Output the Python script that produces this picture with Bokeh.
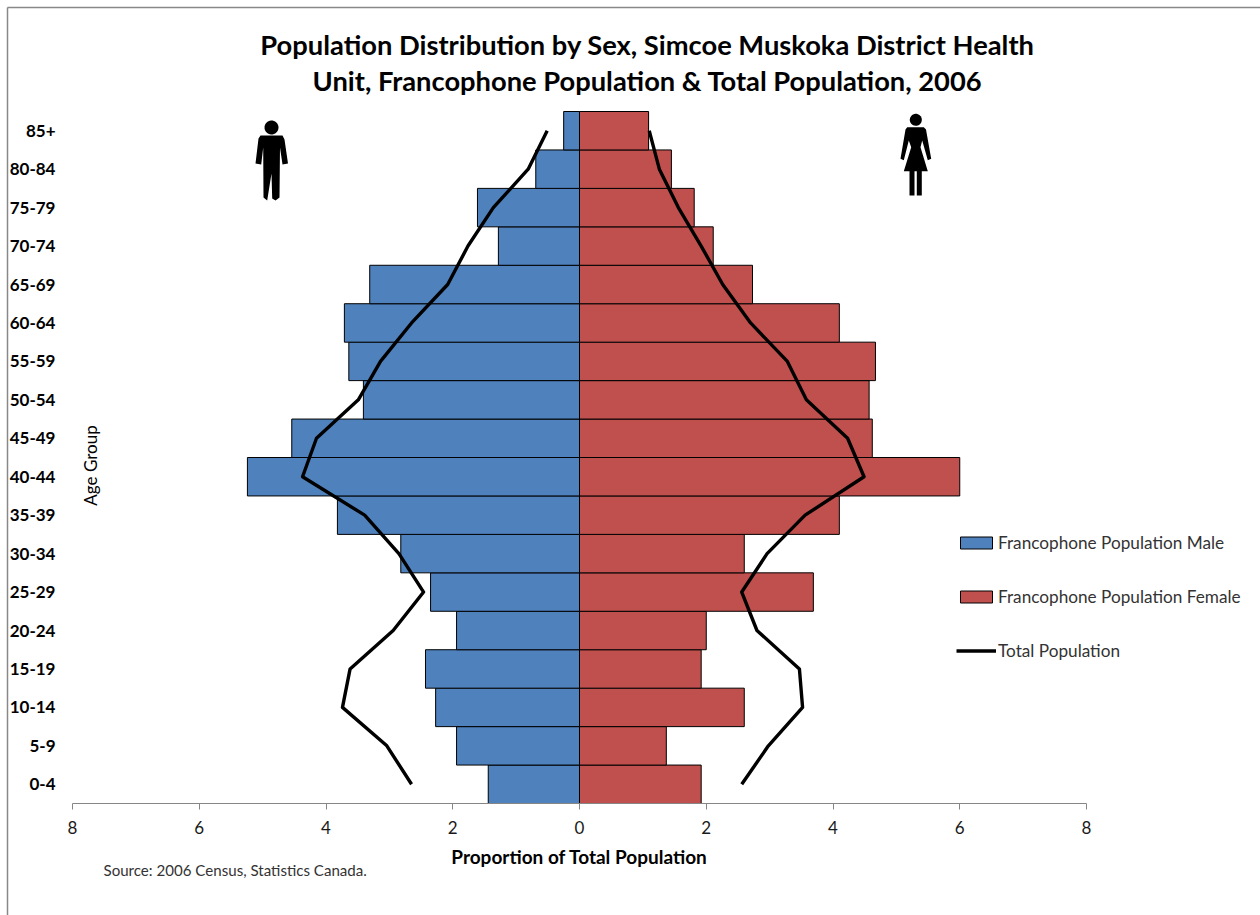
from bokeh.plotting import figure
from bokeh.models import (Range1d, FixedTicker, Label, Legend, LegendItem)
from bokeh.embed import file_html
from bokeh.resources import INLINE
import numpy as np

# ---- data (bottom to top) ----
age_groups = ["0-4", "5-9", "10-14", "15-19", "20-24", "25-29", "30-34", "35-39", "40-44",
              "45-49", "50-54", "55-59", "60-64", "65-69", "70-74", "75-79", "80-84", "85+"]
franco_male = [1.44, 1.94, 2.27, 2.43, 1.94, 2.35, 2.82, 3.82, 5.24,
               4.54, 3.41, 3.64, 3.71, 3.31, 1.28, 1.61, 0.69, 0.25]
franco_female = [1.92, 1.37, 2.60, 1.92, 2.00, 3.69, 2.60, 4.10, 6.00,
                 4.62, 4.57, 4.67, 4.10, 2.73, 2.11, 1.81, 1.45, 1.09]
total_male = [2.65, 3.04, 3.74, 3.62, 2.94, 2.46, 2.85, 3.39, 4.37,
              4.15, 3.49, 3.14, 2.65, 2.08, 1.76, 1.36, 0.81, 0.51]
total_female = [2.56, 2.98, 3.52, 3.47, 2.80, 2.56, 2.96, 3.56, 4.49,
                4.23, 3.58, 3.28, 2.70, 2.26, 1.92, 1.56, 1.26, 1.10]
x_ticks = [-8, -6, -4, -2, 0, 2, 4, 6, 8]

TITLE_1 = "Population Distribution by Sex, Simcoe Muskoka District Health"
TITLE_2 = "Unit, Francophone Population & Total Population, 2006"
FONT = "Lato"
BLUE, RED = "#4F81BD", "#C0504D"

W, H = 1260, 915
X0, PX_PER_X = 579.0, 1014 / 16          # zero line and scale of the value axis
Y0, PX_PER_Y = 803.0, 692 / 18           # baseline and scale of the age axis
pos = [i + 0.5 for i in range(len(age_groups))]

p = figure(width=W, height=H, output_backend="svg", toolbar_location=None,
           x_range=Range1d(-X0 / PX_PER_X, (W - X0) / PX_PER_X),
           y_range=Range1d((Y0 - H) / PX_PER_Y, Y0 / PX_PER_Y),
           min_border=0, outline_line_color=None, background_fill_color="white")
p.grid.visible = False
p.extra_x_ranges = {"px": Range1d(0, W)}
p.extra_y_ranges = {"px": Range1d(H, 0)}

# chart-area border (top and left edges)
p.segment([7, 7], [7, 7], [W, 7], [7, H], x_range_name="px", y_range_name="px",
          line_color="#888888", line_width=1.5)

male_bars = p.hbar(y=pos, left=[-v for v in franco_male], right=0, height=1,
                   fill_color=BLUE, line_color="#000000", line_width=1)
female_bars = p.hbar(y=pos, left=0, right=franco_female, height=1,
                     fill_color=RED, line_color="#000000", line_width=1)
male_line = p.line([-v for v in total_male], pos, line_color="black", line_width=3.4,
                   line_join="round")
p.line(total_female, pos, line_color="black", line_width=3.4, line_join="round")

# axes
xa = p.xaxis[0]
xa.fixed_location = 0
xa.bounds = (-8, 8)
xa.ticker = FixedTicker(ticks=x_ticks)
xa.major_label_overrides = {t: str(abs(t)) for t in x_ticks}
xa.axis_line_color = "#868686"
xa.major_tick_line_color = "#868686"
xa.major_tick_out, xa.major_tick_in = 6, 0
xa.minor_tick_line_color = None
xa.major_label_text_font = FONT
xa.major_label_text_font_size = "17px"
xa.major_label_text_color = "#1a1a1a"
xa.major_label_standoff = 11
xa.axis_label = "Proportion of Total Population"
xa.axis_label_text_font = FONT
xa.axis_label_text_font_style = "bold"
xa.axis_label_text_font_size = "19px"
xa.axis_label_text_color = "#000000"
xa.axis_label_standoff = 8

ya = p.yaxis[0]
ya.fixed_location = -8
ya.ticker = FixedTicker(ticks=pos)
ya.major_label_overrides = dict(zip(pos, age_groups))
ya.axis_line_color = None
ya.major_tick_line_color = None
ya.minor_tick_line_color = None
ya.major_tick_out, ya.major_tick_in = 0, 0
ya.major_label_text_font = FONT
ya.major_label_text_font_style = "bold"
ya.major_label_text_font_size = "17px"
ya.major_label_text_color = "#000000"
ya.major_label_standoff = 17

# titles and notes
def label(text, x, y, size, bold=False, align="left", angle=0, color="#000000"):
    p.add_layout(Label(text=text, x=x, y=y, x_range_name="px", y_range_name="px",
                       text_font=FONT, text_font_size=size,
                       text_font_style="bold" if bold else "normal",
                       text_align=align, text_baseline="middle", angle=angle,
                       text_color=color))

label(TITLE_1, 647, 44, "27.3px", bold=True, align="center")
label(TITLE_2, 647, 80, "27.3px", bold=True, align="center")
label("Age Group", 90, 465, "17px", align="center", angle=np.pi / 2)
label("Source: 2006 Census, Statistics Canada.", 103, 869, "15.1px", color="#333333")

# legend
legend = Legend(items=[LegendItem(label="Francophone Population Male", renderers=[male_bars]),
                       LegendItem(label="Francophone Population Female", renderers=[female_bars]),
                       LegendItem(label="Total Population", renderers=[male_line])],
                location=(956, 254), orientation="vertical",
                background_fill_alpha=0, border_line_color=None, margin=0, padding=0,
                glyph_width=40, glyph_height=15, label_standoff=2, spacing=33,
                label_text_font=FONT, label_text_font_size="17.2px", label_text_color="#333333",
                label_height=20)
p.add_layout(legend, "center")

# pictograms, outlines in page pixels
man_x = [260, 282, 284, 287.5, 282, 279.5, 279, 275, 271.7, 271, 266.7, 263, 262.7, 260.7, 255, 258]
man_y = [135, 135, 139, 163, 164, 147, 197, 200, 198, 173, 200, 197, 147, 164, 163, 138]
woman_x = [906.7, 923.3, 925.5, 930.7, 927.3, 921.7, 920, 927.3, 903.3, 910.7, 908.3, 903.3, 900, 905]
woman_y = [126.7, 126.7, 129, 158.3, 159.7, 140, 146.7, 170.7, 170.7, 146.7, 140, 159.7, 158.3, 129]
t = np.linspace(0, 2 * np.pi, 32)
shapes = [(man_x, man_y),
          (list(271 + 7 * np.cos(t)), list(127 + 7 * np.sin(t))),
          (woman_x, woman_y),
          (list(915.3 + 6 * np.cos(t)), list(119.3 + 6 * np.sin(t))),
          ([909, 914, 914, 909], [170, 170, 195, 195]),
          ([916.3, 921.3, 921.3, 916.3], [170, 170, 195, 195])]
p.patches([s[0] for s in shapes], [s[1] for s in shapes], x_range_name="px", y_range_name="px",
          fill_color="black", line_color=None)

open("out.html", "w").write(file_html(p, INLINE))
